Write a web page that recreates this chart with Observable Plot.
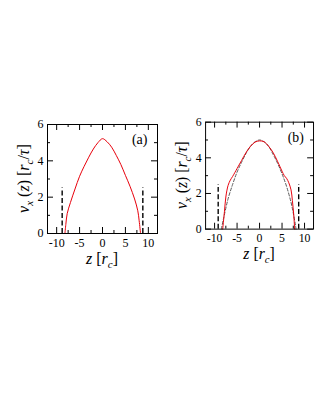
<!DOCTYPE html>
<html><head><meta charset="utf-8">
<script src="https://cdn.jsdelivr.net/npm/d3@7"></script>
<script src="https://cdn.jsdelivr.net/npm/@observablehq/plot@0.6"></script>
<style>
html,body{margin:0;padding:0;background:#fff;}
#fig{position:relative;width:315px;height:407px;overflow:hidden;background:#fff;}
.panel{position:absolute;top:0;}
</style></head><body><div id="fig"></div>
<script>
// Panel (a): simulated velocity profile
const zA = [-8.2, -8.0, -7.7, -7.0, -6.0, -5.0, -4.0, -3.0, -2.0, -1.0, 0.0, 1.0, 2.0, 3.0, 4.0, 5.0, 6.0, 7.0, 7.7, 8.0, 8.3];
const vA = [0.0, 0.5, 1.1, 1.7, 2.45, 3.15, 3.7, 4.2, 4.65, 5.0, 5.22, 5.05, 4.75, 4.3, 3.8, 3.2, 2.6, 1.9, 1.25, 0.7, 0.0];
// Panel (b): simulation (solid red) and smooth reference profile (dashed)
const zB = [-8.2, -7.8, -7.5, -7.0, -6.5, -6.0, -5.0, -4.0, -3.0, -2.0, -1.0, 0.0, 1.0, 2.0, 3.0, 4.0, 5.0, 5.5, 6.0, 6.5, 7.0, 7.3, 7.6, 7.8];
const vB = [0.0, 1.0, 1.8, 2.45, 2.75, 2.95, 3.4, 3.85, 4.3, 4.65, 4.88, 4.95, 4.9, 4.65, 4.3, 3.8, 3.25, 3.0, 2.85, 2.6, 2.2, 1.6, 0.8, 0.0];
const zBdash = [-8.5, -8.0, -7.0, -6.0, -5.0, -4.0, -3.0, -2.0, -1.0, 0.0, 1.0, 2.0, 3.0, 4.0, 5.0, 6.0, 7.0, 7.5, 8.0, 8.1];
const vBdash = [0.0, 0.6, 1.7, 2.5, 3.2, 3.75, 4.25, 4.65, 4.9, 5.0, 4.9, 4.65, 4.2, 3.7, 3.1, 2.4, 1.5, 0.9, 0.2, 0.0];
// Wall positions (dashed vertical markers) and their height
const wallsA = [-8.8, 8.8];
const wallsB = [-9.2, 8.7];
const wallTop = [2.5];
// Axes
const xDomain = [-12, 12];
const yDomain = [0, 6];
const xTickLabels = [-10, -5, 0, 5, 10];
const xMinorTicks = [-7.5, -2.5, 2.5, 7.5];
const yTickLabels = [0, 2, 4, 6];
const yMinorTicks = [1, 3, 5];
const panelLabels = ["(a)", "(b)"];

const SERIF = "Liberation Serif";
const RED = "#e8000b";

function rows(zs, vs) { return zs.map((z, i) => ({z, v: vs[i]})); }

function makePanel({left, marginLeft, lines, walls, label}) {
  const W = 160, H = 300, mt = 124, mb = 67;
  const fw = 110, mr = W - marginLeft - fw;
  const fh = H - mt - mb;
  const maj = 6, mnr = 3;
  const marks = [
    ...lines,
    Plot.ruleX(walls, {x: d => d, y1: 0, y2: wallTop[0], stroke: "#000", strokeWidth: 1.4, strokeDasharray: "5,2.5"}),
    Plot.tickX(xTickLabels, {x: d => d, insetTop: fh - maj, stroke: "#000"}),
    Plot.tickX(xMinorTicks, {x: d => d, insetTop: fh - mnr, stroke: "#000"}),
    Plot.tickX(xTickLabels, {x: d => d, insetBottom: fh - maj, stroke: "#000"}),
    Plot.tickX(xMinorTicks, {x: d => d, insetBottom: fh - mnr, stroke: "#000"}),
    Plot.tickY(yTickLabels, {y: d => d, insetRight: fw - maj, stroke: "#000"}),
    Plot.tickY(yMinorTicks, {y: d => d, insetRight: fw - mnr, stroke: "#000"}),
    Plot.tickY(yTickLabels, {y: d => d, insetLeft: fw - maj, stroke: "#000"}),
    Plot.tickY(yMinorTicks, {y: d => d, insetLeft: fw - mnr, stroke: "#000"}),
    Plot.axisX(xTickLabels, {tickSize: 0, tickPadding: 5, fontSize: 12, fill: "#000", fontFamily: SERIF, tickFormat: d => (d < 0 ? "-" + Math.abs(d) : String(d)), label: null}),
    Plot.axisY(yTickLabels, {tickSize: 0, tickPadding: 4, fontSize: 12, fill: "#000", fontFamily: SERIF, label: null}),
    Plot.frame({stroke: "#000", strokeWidth: 1}),
    Plot.text([label], {text: d => d, frameAnchor: "top-right", dx: -10, dy: 10, fontSize: 14, fill: "#000", fontFamily: SERIF})
  ];
  const svg = Plot.plot({
    width: W, height: H, marginTop: mt, marginBottom: mb, marginLeft, marginRight: mr,
    x: {domain: xDomain, label: null},
    y: {domain: yDomain, label: null},
    style: {fontFamily: SERIF, fontSize: "12px", color: "#000", background: "transparent", overflow: "visible"},
    marks
  });
  const s = d3.select(svg);
  // y-axis label: v_x (z) [r_c/τ]
  const yl = s.append("text")
    .attr("transform", `translate(${marginLeft - 18},${mt + fh / 2}) rotate(-90)`)
    .attr("text-anchor", "middle")
    .style("font-family", SERIF).attr("font-size", 16).attr("fill", "#000");
  yl.append("tspan").attr("font-style", "italic").text("v");
  yl.append("tspan").attr("font-style", "italic").attr("font-size", 11).attr("dy", 4).text("x");
  yl.append("tspan").attr("dy", -4).text(" (");
  yl.append("tspan").attr("font-style", "italic").text("z");
  yl.append("tspan").text(") [");
  yl.append("tspan").attr("font-style", "italic").text("r");
  yl.append("tspan").attr("font-style", "italic").attr("font-size", 11).attr("dy", 4).text("c");
  yl.append("tspan").attr("dy", -4).text("/");
  yl.append("tspan").attr("font-style", "italic").text("τ");
  yl.append("tspan").text("]");
  // x-axis label: z [r_c]
  const xl = s.append("text")
    .attr("x", marginLeft + fw / 2).attr("y", mt + fh + 31)
    .attr("text-anchor", "middle")
    .style("font-family", SERIF).attr("font-size", 16).attr("fill", "#000");
  xl.append("tspan").attr("font-style", "italic").text("z");
  xl.append("tspan").text(" [");
  xl.append("tspan").attr("font-style", "italic").text("r");
  xl.append("tspan").attr("font-style", "italic").attr("font-size", 11).attr("dy", 4).text("c");
  xl.append("tspan").attr("dy", -4).text("]");
  const div = document.createElement("div");
  div.className = "panel";
  div.style.left = left + "px";
  div.appendChild(svg);
  return div;
}

const fig = document.getElementById("fig");
fig.appendChild(makePanel({
  left: 0, marginLeft: 47, walls: wallsA, label: panelLabels[0],
  lines: [Plot.line(rows(zA, vA), {x: "z", y: "v", stroke: RED, strokeWidth: 1, curve: "catmull-rom"})]
}));
fig.appendChild(makePanel({
  left: 158, marginLeft: 48, walls: wallsB, label: panelLabels[1],
  lines: [
    Plot.line(rows(zBdash, vBdash), {x: "z", y: "v", stroke: "#555", strokeWidth: 1, strokeDasharray: "3,2", curve: "catmull-rom"}),
    Plot.line(rows(zB, vB), {x: "z", y: "v", stroke: RED, strokeWidth: 1, curve: "catmull-rom"})
  ]
}));
</script></body></html>
